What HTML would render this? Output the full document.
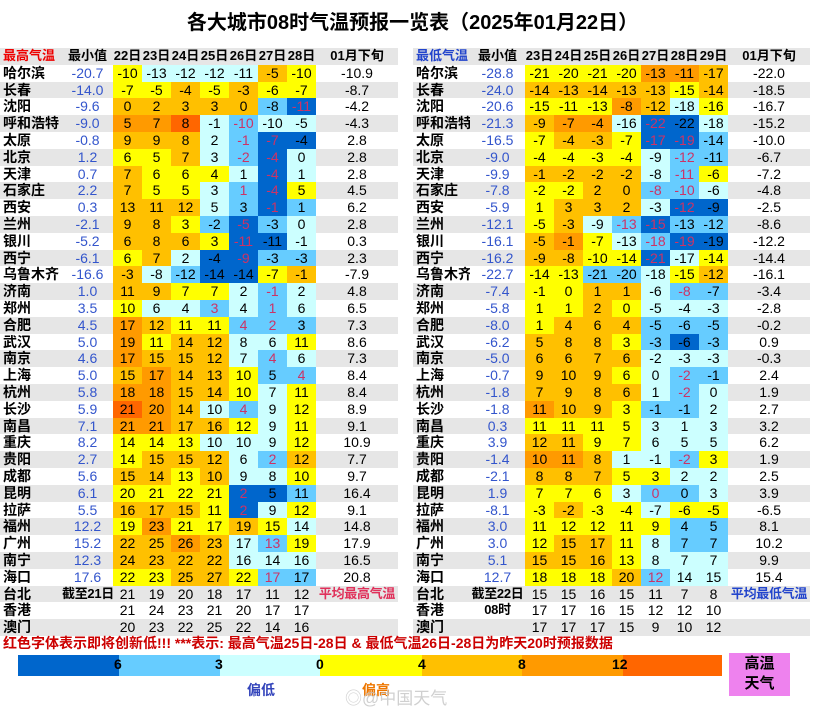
<!DOCTYPE html>
<html><head><meta charset="utf-8">
<style>
body{margin:0;width:825px;height:715px;background:#fff;position:relative;overflow:hidden;font-family:"Liberation Sans","Noto Sans CJK SC",sans-serif;}
.title{position:absolute;top:6px;left:0;width:825px;text-align:center;font-size:20px;font-weight:bold;letter-spacing:0px;color:#000;}
table{position:absolute;top:48px;border-collapse:collapse;table-layout:fixed;font-size:14px;}
td{height:16.8px;padding:0;text-align:center;white-space:nowrap;overflow:hidden;line-height:16.8px;}
tr:nth-child(odd){background:#e6e6e6;}
tr:nth-child(even){background:#fff;}
td:first-child{text-align:left;font-weight:bold;padding-left:3px;}
td.m{color:#3355cc;}
td.s{font-size:13px;font-weight:bold;letter-spacing:-0.3px;}
tr.h td{font-weight:bold;font-size:13px;}
.Y{background:#ffff00;}.O{background:#ffc000;}.D{background:#ff9a00;}.R{background:#ff6600;}
.C{background:#ccffff;}.L{background:#66ccff;}.B{background:#0066cc;}
.r{color:#cc3366;}
.foot{position:absolute;left:3px;top:633px;font-size:14px;color:#cc0000;font-weight:bold;letter-spacing:0px;}
.bar{position:absolute;top:655px;height:21px;}
.lbl{position:absolute;top:656px;font-size:14px;font-weight:bold;}
</style></head><body>
<div class="title">各大城市08时气温预报一览表（2025年01月22日）</div>

<table style="left:0;width:398px">
<colgroup><col style="width:62px"><col style="width:51px"><col style="width:29px"><col style="width:29px"><col style="width:29px"><col style="width:29px"><col style="width:29px"><col style="width:29px"><col style="width:29px"><col style="width:82px"></colgroup>
<tr class="h"><td style="color:#ee0000">最高气温</td><td>最小值</td><td>22日</td><td>23日</td><td>24日</td><td>25日</td><td>26日</td><td>27日</td><td>28日</td><td>01月下旬</td></tr>
<tr><td>哈尔滨</td><td class="m">-20.7</td><td class="Y">-10</td><td class="C">-13</td><td class="C">-12</td><td class="C">-12</td><td class="C">-11</td><td class="O">-5</td><td class="Y">-10</td><td>-10.9</td></tr>
<tr><td>长春</td><td class="m">-14.0</td><td class="Y">-7</td><td class="Y">-5</td><td class="O">-4</td><td class="Y">-5</td><td class="O">-3</td><td class="Y">-6</td><td class="Y">-7</td><td>-8.7</td></tr>
<tr><td>沈阳</td><td class="m">-9.6</td><td class="O">0</td><td class="O">2</td><td class="O">3</td><td class="O">3</td><td class="O">0</td><td class="L">-8</td><td class="B r">-11</td><td>-4.2</td></tr>
<tr><td>呼和浩特</td><td class="m">-9.0</td><td class="D">5</td><td class="D">7</td><td class="R">8</td><td class="C">-1</td><td class="L r">-10</td><td class="C">-10</td><td class="C">-5</td><td>-4.3</td></tr>
<tr><td>太原</td><td class="m">-0.8</td><td class="O">9</td><td class="O">9</td><td class="O">8</td><td class="C">2</td><td class="L r">-1</td><td class="B r">-7</td><td class="B">-4</td><td>2.8</td></tr>
<tr><td>北京</td><td class="m">1.2</td><td class="Y">6</td><td class="Y">5</td><td class="O">7</td><td class="C">3</td><td class="L r">-2</td><td class="B r">-4</td><td class="C">0</td><td>2.8</td></tr>
<tr><td>天津</td><td class="m">0.7</td><td class="O">7</td><td class="Y">6</td><td class="Y">6</td><td class="Y">4</td><td class="C">1</td><td class="B r">-4</td><td class="C">1</td><td>2.8</td></tr>
<tr><td>石家庄</td><td class="m">2.2</td><td class="O">7</td><td class="Y">5</td><td class="Y">5</td><td class="C">3</td><td class="L r">1</td><td class="B r">-4</td><td class="Y">5</td><td>4.5</td></tr>
<tr><td>西安</td><td class="m">0.3</td><td class="O">13</td><td class="O">11</td><td class="O">12</td><td class="C">5</td><td class="L">3</td><td class="B r">-1</td><td class="L">1</td><td>6.2</td></tr>
<tr><td>兰州</td><td class="m">-2.1</td><td class="O">9</td><td class="O">8</td><td class="Y">3</td><td class="L">-2</td><td class="B r">-5</td><td class="L">-3</td><td class="C">0</td><td>2.8</td></tr>
<tr><td>银川</td><td class="m">-5.2</td><td class="O">6</td><td class="O">8</td><td class="O">6</td><td class="Y">3</td><td class="B r">-11</td><td class="B">-11</td><td class="C">-1</td><td>0.3</td></tr>
<tr><td>西宁</td><td class="m">-6.1</td><td class="Y">6</td><td class="O">7</td><td class="C">2</td><td class="B">-4</td><td class="B r">-9</td><td class="L">-3</td><td class="L">-3</td><td>2.3</td></tr>
<tr><td>乌鲁木齐</td><td class="m">-16.6</td><td class="O">-3</td><td class="C">-8</td><td class="L">-12</td><td class="B">-14</td><td class="B">-14</td><td class="Y">-7</td><td class="O">-1</td><td>-7.9</td></tr>
<tr><td>济南</td><td class="m">1.0</td><td class="O">11</td><td class="O">9</td><td class="Y">7</td><td class="Y">7</td><td class="C">2</td><td class="L r">-1</td><td class="C">2</td><td>4.8</td></tr>
<tr><td>郑州</td><td class="m">3.5</td><td class="Y">10</td><td class="C">6</td><td class="C">4</td><td class="L r">3</td><td class="C">4</td><td class="L r">1</td><td class="C">6</td><td>6.5</td></tr>
<tr><td>合肥</td><td class="m">4.5</td><td class="D">17</td><td class="O">12</td><td class="Y">11</td><td class="Y">11</td><td class="L r">4</td><td class="L r">2</td><td class="L">3</td><td>7.3</td></tr>
<tr><td>武汉</td><td class="m">5.0</td><td class="D">19</td><td class="Y">11</td><td class="O">14</td><td class="O">12</td><td class="C">8</td><td class="C">6</td><td class="Y">11</td><td>8.6</td></tr>
<tr><td>南京</td><td class="m">4.6</td><td class="D">17</td><td class="O">15</td><td class="O">15</td><td class="O">12</td><td class="C">7</td><td class="L r">4</td><td class="C">6</td><td>7.3</td></tr>
<tr><td>上海</td><td class="m">5.0</td><td class="O">15</td><td class="D">17</td><td class="O">14</td><td class="O">13</td><td class="Y">10</td><td class="L">5</td><td class="L r">4</td><td>8.4</td></tr>
<tr><td>杭州</td><td class="m">5.8</td><td class="D">18</td><td class="D">18</td><td class="O">15</td><td class="O">14</td><td class="Y">10</td><td class="C">7</td><td class="Y">11</td><td>8.4</td></tr>
<tr><td>长沙</td><td class="m">5.9</td><td class="R">21</td><td class="D">20</td><td class="O">14</td><td class="C">10</td><td class="L r">4</td><td class="C">9</td><td class="Y">12</td><td>8.9</td></tr>
<tr><td>南昌</td><td class="m">7.1</td><td class="D">21</td><td class="D">21</td><td class="O">17</td><td class="O">16</td><td class="Y">12</td><td class="C">9</td><td class="Y">11</td><td>9.1</td></tr>
<tr><td>重庆</td><td class="m">8.2</td><td class="Y">14</td><td class="Y">14</td><td class="Y">13</td><td class="C">10</td><td class="C">10</td><td class="C">9</td><td class="Y">12</td><td>10.9</td></tr>
<tr><td>贵阳</td><td class="m">2.7</td><td class="Y">14</td><td class="O">15</td><td class="O">15</td><td class="O">12</td><td class="C">6</td><td class="L r">2</td><td class="O">12</td><td>7.7</td></tr>
<tr><td>成都</td><td class="m">5.6</td><td class="O">15</td><td class="O">14</td><td class="Y">13</td><td class="O">10</td><td class="C">9</td><td class="C">8</td><td class="Y">10</td><td>9.7</td></tr>
<tr><td>昆明</td><td class="m">6.1</td><td class="Y">20</td><td class="Y">21</td><td class="Y">22</td><td class="Y">21</td><td class="B r">2</td><td class="B">5</td><td class="L">11</td><td>16.4</td></tr>
<tr><td>拉萨</td><td class="m">5.5</td><td class="O">16</td><td class="O">17</td><td class="O">15</td><td class="Y">11</td><td class="B r">2</td><td class="C">9</td><td class="Y">12</td><td>9.1</td></tr>
<tr><td>福州</td><td class="m">12.2</td><td class="Y">19</td><td class="D">23</td><td class="Y">21</td><td class="Y">17</td><td class="O">19</td><td class="Y">15</td><td class="C">14</td><td>14.8</td></tr>
<tr><td>广州</td><td class="m">15.2</td><td class="O">22</td><td class="O">25</td><td class="D">26</td><td class="O">23</td><td class="C">17</td><td class="L r">13</td><td class="Y">19</td><td>17.9</td></tr>
<tr><td>南宁</td><td class="m">12.3</td><td class="O">24</td><td class="O">23</td><td class="O">22</td><td class="O">22</td><td class="C">16</td><td class="C">14</td><td class="C">16</td><td>16.5</td></tr>
<tr><td>海口</td><td class="m">17.6</td><td class="Y">22</td><td class="Y">23</td><td class="O">25</td><td class="O">27</td><td class="Y">22</td><td class="L r">17</td><td class="L">17</td><td>20.8</td></tr>
<tr><td>台北</td><td class="s">截至21日</td><td>21</td><td>19</td><td>20</td><td>18</td><td>17</td><td>11</td><td>12</td><td class="s" style="color:#e0305a">平均最高气温</td></tr>
<tr><td>香港</td><td></td><td>21</td><td>24</td><td>23</td><td>21</td><td>20</td><td>17</td><td>17</td><td></td></tr>
<tr><td>澳门</td><td></td><td>20</td><td>23</td><td>22</td><td>25</td><td>22</td><td>14</td><td>16</td><td></td></tr>
</table>

<table style="left:413px;width:397px">
<colgroup><col style="width:57px"><col style="width:55px"><col style="width:29px"><col style="width:29px"><col style="width:29px"><col style="width:29px"><col style="width:29px"><col style="width:29px"><col style="width:29px"><col style="width:82px"></colgroup>
<tr class="h"><td style="color:#2244cc">最低气温</td><td>最小值</td><td>23日</td><td>24日</td><td>25日</td><td>26日</td><td>27日</td><td>28日</td><td>29日</td><td>01月下旬</td></tr>
<tr><td>哈尔滨</td><td class="m">-28.8</td><td class="Y">-21</td><td class="Y">-20</td><td class="Y">-21</td><td class="Y">-20</td><td class="D">-13</td><td class="D">-11</td><td class="O">-17</td><td>-22.0</td></tr>
<tr><td>长春</td><td class="m">-24.0</td><td class="O">-14</td><td class="O">-13</td><td class="O">-14</td><td class="O">-13</td><td class="O">-13</td><td class="Y">-15</td><td class="O">-14</td><td>-18.5</td></tr>
<tr><td>沈阳</td><td class="m">-20.6</td><td class="Y">-15</td><td class="Y">-11</td><td class="Y">-13</td><td class="D">-8</td><td class="O">-12</td><td class="C">-18</td><td class="Y">-16</td><td>-16.7</td></tr>
<tr><td>呼和浩特</td><td class="m">-21.3</td><td class="O">-9</td><td class="D">-7</td><td class="D">-4</td><td class="C">-16</td><td class="B r">-22</td><td class="B">-22</td><td class="C">-18</td><td>-15.2</td></tr>
<tr><td>太原</td><td class="m">-16.5</td><td class="Y">-7</td><td class="O">-4</td><td class="O">-3</td><td class="Y">-7</td><td class="B r">-17</td><td class="B r">-19</td><td class="L">-14</td><td>-10.0</td></tr>
<tr><td>北京</td><td class="m">-9.0</td><td class="Y">-4</td><td class="Y">-4</td><td class="Y">-3</td><td class="Y">-4</td><td class="C">-9</td><td class="L r">-12</td><td class="L">-11</td><td>-6.7</td></tr>
<tr><td>天津</td><td class="m">-9.9</td><td class="O">-1</td><td class="O">-2</td><td class="O">-2</td><td class="O">-2</td><td class="C">-8</td><td class="L r">-11</td><td class="Y">-6</td><td>-7.2</td></tr>
<tr><td>石家庄</td><td class="m">-7.8</td><td class="Y">-2</td><td class="Y">-2</td><td class="O">2</td><td class="O">0</td><td class="L r">-8</td><td class="L r">-10</td><td class="C">-6</td><td>-4.8</td></tr>
<tr><td>西安</td><td class="m">-5.9</td><td class="Y">1</td><td class="O">3</td><td class="O">3</td><td class="O">2</td><td class="C">-3</td><td class="B r">-12</td><td class="B">-9</td><td>-2.5</td></tr>
<tr><td>兰州</td><td class="m">-12.1</td><td class="Y">-5</td><td class="O">-3</td><td class="C">-9</td><td class="L r">-13</td><td class="B r">-15</td><td class="L">-13</td><td class="L">-12</td><td>-8.6</td></tr>
<tr><td>银川</td><td class="m">-16.1</td><td class="O">-5</td><td class="D">-1</td><td class="Y">-7</td><td class="C">-13</td><td class="L r">-18</td><td class="B r">-19</td><td class="B">-19</td><td>-12.2</td></tr>
<tr><td>西宁</td><td class="m">-16.2</td><td class="O">-9</td><td class="O">-8</td><td class="Y">-10</td><td class="Y">-14</td><td class="B r">-21</td><td class="C">-17</td><td class="Y">-14</td><td>-14.4</td></tr>
<tr><td>乌鲁木齐</td><td class="m">-22.7</td><td class="Y">-14</td><td class="Y">-13</td><td class="L">-21</td><td class="L">-20</td><td class="C">-18</td><td class="Y">-15</td><td class="O">-12</td><td>-16.1</td></tr>
<tr><td>济南</td><td class="m">-7.4</td><td class="Y">-1</td><td class="Y">0</td><td class="O">1</td><td class="O">1</td><td class="C">-6</td><td class="L r">-8</td><td class="L">-7</td><td>-3.4</td></tr>
<tr><td>郑州</td><td class="m">-5.8</td><td class="Y">1</td><td class="Y">1</td><td class="O">2</td><td class="Y">0</td><td class="C">-5</td><td class="C">-4</td><td class="C">-3</td><td>-2.8</td></tr>
<tr><td>合肥</td><td class="m">-8.0</td><td class="Y">1</td><td class="O">4</td><td class="O">6</td><td class="O">4</td><td class="L">-5</td><td class="L">-6</td><td class="L">-5</td><td>-0.2</td></tr>
<tr><td>武汉</td><td class="m">-6.2</td><td class="O">5</td><td class="O">8</td><td class="O">8</td><td class="Y">3</td><td class="L">-3</td><td class="B">-6</td><td class="L">-3</td><td>0.9</td></tr>
<tr><td>南京</td><td class="m">-5.0</td><td class="O">6</td><td class="O">6</td><td class="O">7</td><td class="O">6</td><td class="C">-2</td><td class="C">-3</td><td class="C">-3</td><td>-0.3</td></tr>
<tr><td>上海</td><td class="m">-0.7</td><td class="O">9</td><td class="O">10</td><td class="O">9</td><td class="Y">6</td><td class="C">0</td><td class="L r">-2</td><td class="L">-1</td><td>2.4</td></tr>
<tr><td>杭州</td><td class="m">-1.8</td><td class="O">7</td><td class="O">9</td><td class="O">8</td><td class="O">6</td><td class="C">1</td><td class="L r">-2</td><td class="C">0</td><td>1.9</td></tr>
<tr><td>长沙</td><td class="m">-1.8</td><td class="D">11</td><td class="O">10</td><td class="O">9</td><td class="Y">3</td><td class="L">-1</td><td class="L">-1</td><td class="C">2</td><td>2.7</td></tr>
<tr><td>南昌</td><td class="m">0.3</td><td class="Y">11</td><td class="Y">11</td><td class="Y">11</td><td class="Y">5</td><td class="C">3</td><td class="C">1</td><td class="C">3</td><td>3.2</td></tr>
<tr><td>重庆</td><td class="m">3.9</td><td class="O">12</td><td class="O">11</td><td class="Y">9</td><td class="Y">7</td><td class="C">6</td><td class="C">5</td><td class="C">5</td><td>6.2</td></tr>
<tr><td>贵阳</td><td class="m">-1.4</td><td class="D">10</td><td class="D">11</td><td class="O">8</td><td class="C">1</td><td class="C">-1</td><td class="L r">-2</td><td class="Y">3</td><td>1.9</td></tr>
<tr><td>成都</td><td class="m">-2.1</td><td class="O">8</td><td class="O">8</td><td class="O">7</td><td class="Y">5</td><td class="Y">3</td><td class="C">2</td><td class="C">2</td><td>2.5</td></tr>
<tr><td>昆明</td><td class="m">1.9</td><td class="Y">7</td><td class="Y">7</td><td class="Y">6</td><td class="C">3</td><td class="L r">0</td><td class="L">0</td><td class="C">3</td><td>3.9</td></tr>
<tr><td>拉萨</td><td class="m">-8.1</td><td class="Y">-3</td><td class="O">-2</td><td class="Y">-3</td><td class="Y">-4</td><td class="C">-7</td><td class="Y">-6</td><td class="Y">-5</td><td>-6.5</td></tr>
<tr><td>福州</td><td class="m">3.0</td><td class="Y">11</td><td class="Y">12</td><td class="Y">12</td><td class="Y">11</td><td class="Y">9</td><td class="L">4</td><td class="L">5</td><td>8.1</td></tr>
<tr><td>广州</td><td class="m">3.0</td><td class="Y">12</td><td class="O">15</td><td class="O">17</td><td class="Y">11</td><td class="C">8</td><td class="L">7</td><td class="L">7</td><td>10.2</td></tr>
<tr><td>南宁</td><td class="m">5.1</td><td class="O">15</td><td class="O">15</td><td class="O">16</td><td class="Y">13</td><td class="C">8</td><td class="C">7</td><td class="C">7</td><td>9.9</td></tr>
<tr><td>海口</td><td class="m">12.7</td><td class="Y">18</td><td class="Y">18</td><td class="Y">18</td><td class="O">20</td><td class="L r">12</td><td class="C">14</td><td class="C">15</td><td>15.4</td></tr>
<tr><td>台北</td><td class="s">截至22日</td><td>15</td><td>15</td><td>16</td><td>15</td><td>11</td><td>7</td><td>8</td><td class="s" style="color:#2244cc">平均最低气温</td></tr>
<tr><td>香港</td><td class="s">08时</td><td>17</td><td>17</td><td>16</td><td>15</td><td>12</td><td>12</td><td>10</td><td></td></tr>
<tr><td>澳门</td><td></td><td>17</td><td>17</td><td>17</td><td>15</td><td>9</td><td>10</td><td>12</td><td></td></tr>
</table>

<div class="foot">红色字体表示即将创新低!!! ***表示: 最高气温25日-28日 &amp; 最低气温26日-28日为昨天20时预报数据</div>

<div class="bar" style="left:18px;width:101px;background:#0066cc"></div>
<div class="bar" style="left:119px;width:101px;background:#66ccff"></div>
<div class="bar" style="left:220px;width:100px;background:#ccffff"></div>
<div class="bar" style="left:320px;width:102px;background:#ffff00"></div>
<div class="bar" style="left:422px;width:100px;background:#ffc000"></div>
<div class="bar" style="left:522px;width:101px;background:#ff9a00"></div>
<div class="bar" style="left:623px;width:99px;background:#ff6600"></div>
<div class="lbl" style="left:114px">6</div>
<div class="lbl" style="left:215px">3</div>
<div class="lbl" style="left:316px">0</div>
<div class="lbl" style="left:418px">4</div>
<div class="lbl" style="left:518px">8</div>
<div class="lbl" style="left:612px">12</div>
<div style="position:absolute;left:729px;top:653px;width:61px;height:42px;background:#ee82ee;text-align:center;font-size:15px;font-weight:bold;line-height:20px;padding-top:1px">高温<br>天气</div>
<div style="position:absolute;left:247px;top:680px;font-size:14px;font-weight:bold;color:#3344bb">偏低</div>
<div style="position:absolute;left:362px;top:680px;font-size:14px;font-weight:bold;color:#ee7700">偏高</div>
<div style="position:absolute;left:345px;top:684px;font-size:17px;color:#c8c8c8;opacity:0.85">◎@中国天气</div>
</body></html>
